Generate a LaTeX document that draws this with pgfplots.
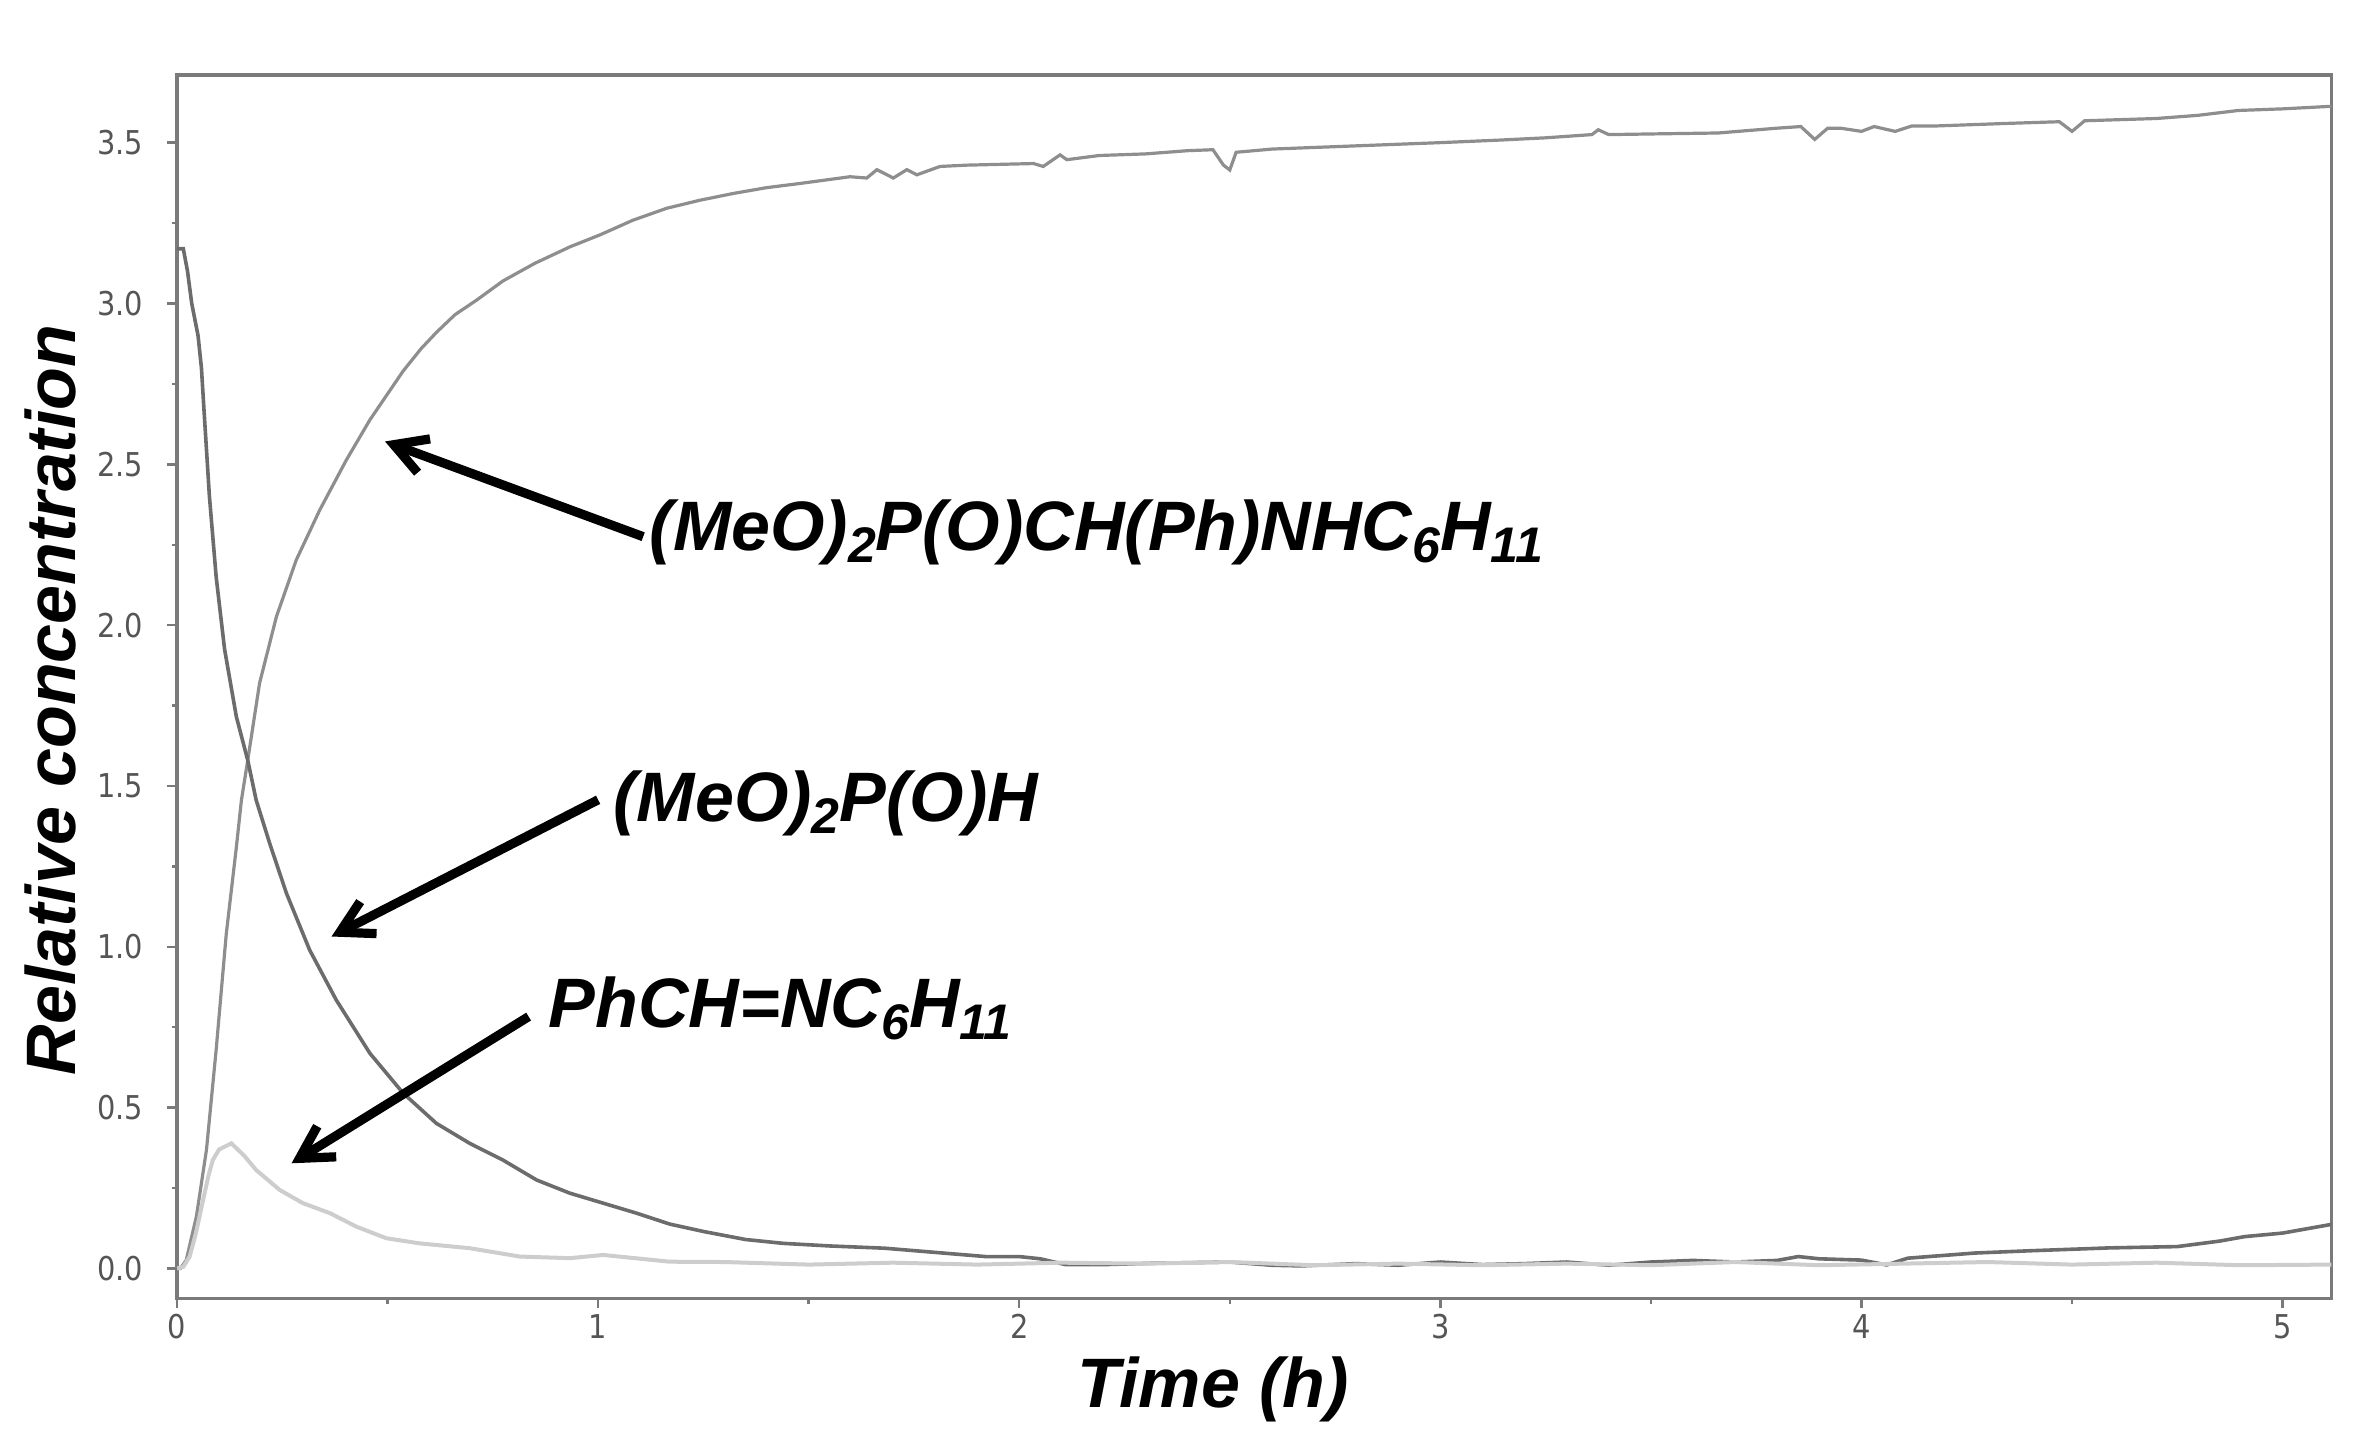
\documentclass[border=0pt]{standalone}
\usepackage{fontspec}
\setmainfont{Liberation Sans}
\newfontfamily\tickfont[FakeStretch=0.88]{DejaVu Sans}
\usepackage{pgfplots}
\pgfplotsset{compat=1.18}
\usetikzlibrary{arrows.meta}

\definecolor{axisgray}{HTML}{7A7A7A}
\definecolor{tickgray}{HTML}{555555}
\definecolor{prodgray}{HTML}{8E8E8E}
\definecolor{phosgray}{HTML}{6C6C6C}
\definecolor{iminegray}{HTML}{CDCDCD}

\newcommand\sub[1]{\raisebox{-3pt}{\fontsize{12.5pt}{12.5pt}\selectfont #1}}
\newcommand\bigfont{\fontsize{17.5pt}{20pt}\selectfont\bfseries\itshape}

\begin{document}
\begin{tikzpicture}
\useasboundingbox (0,0) rectangle (589.25pt,357.5pt);
\begin{axis}[
    at={(44.25pt,32.9pt)}, anchor=south west,
    scale only axis, width=538.6pt, height=305.9pt,
    xmin=0, xmax=5.116, ymin=-0.093, ymax=3.711,
    xtick={0,1,2,3,4,5}, ytick={0,0.5,...,3.5},
    minor x tick num=1, minor y tick num=1,
    tick pos=left, tick align=outside,
    major tick length=2.5pt, minor tick length=1.3pt,
    tick style={draw=axisgray, line width=0.6pt},
    axis line style={draw=axisgray, line width=0.9pt},
    /pgf/number format/assume math mode=true,
    ticklabel style={font=\tickfont\fontsize{8.2pt}{9pt}\selectfont, text=tickgray},
    y tick label style={xshift=-2.4pt, /pgf/number format/.cd, fixed, fixed zerofill, precision=1},
    x tick label style={yshift=2pt},
    xlabel={Time (h)}, ylabel={Relative concentration},
    every axis x label/.style={at={(axis description cs:0.481,-0.0895)}, anchor=base, font=\bigfont},
    every axis y label/.style={at={(axis description cs:-0.0473,0.489)}, rotate=90, anchor=base, font=\bigfont},
]
% (MeO)2P(O)CH(Ph)NHC6H11
\addplot[prodgray, line width=0.8pt] coordinates {
(0,0) (0.008,0.0) (0.022,0.026) (0.046,0.161) (0.070,0.369) (0.093,0.68)
(0.117,1.04) (0.141,1.31) (0.153,1.456) (0.168,1.58) (0.196,1.819)
(0.236,2.026) (0.283,2.202) (0.339,2.358) (0.402,2.513) (0.458,2.638)
(0.537,2.79) (0.58,2.86) (0.616,2.91) (0.66,2.965) (0.711,3.01) (0.774,3.07) (0.85,3.125)
(0.933,3.176) (1.004,3.213) (1.083,3.259) (1.163,3.296) (1.242,3.321)
(1.321,3.342) (1.40,3.36) (1.479,3.373) (1.598,3.394) (1.638,3.39)
(1.662,3.416) (1.701,3.39) (1.733,3.416) (1.757,3.40) (1.812,3.426)
(1.875,3.43) (2.034,3.435) (2.057,3.426) (2.097,3.462) (2.113,3.447)
(2.19,3.46) (2.3,3.465) (2.40,3.475) (2.46,3.478) (2.485,3.43) (2.50,3.415)
(2.515,3.47) (2.6,3.48) (2.7,3.485) (2.8,3.49) (2.9,3.495) (3.0,3.50)
(3.142,3.508) (3.25,3.515) (3.36,3.525) (3.375,3.54) (3.40,3.525)
(3.5,3.527) (3.66,3.53) (3.80,3.545) (3.856,3.55) (3.889,3.51) (3.92,3.545)
(3.95,3.545) (4.0,3.535) (4.03,3.55) (4.08,3.535) (4.12,3.552) (4.18,3.552)
(4.35,3.56) (4.47,3.565) (4.50,3.535) (4.53,3.568) (4.70,3.575) (4.80,3.585)
(4.895,3.60) (5.0,3.605) (5.116,3.613)
};
% (MeO)2P(O)H
\addplot[phosgray, line width=0.9pt] coordinates {
(0,3.17) (0.015,3.17) (0.025,3.10) (0.035,3.00) (0.05,2.90) (0.058,2.80)
(0.065,2.65) (0.077,2.40) (0.093,2.15) (0.113,1.925) (0.141,1.715)
(0.168,1.58) (0.188,1.456) (0.22,1.322) (0.26,1.166) (0.315,0.99)
(0.378,0.835) (0.458,0.669) (0.537,0.545) (0.616,0.451) (0.695,0.389)
(0.774,0.337) (0.854,0.275) (0.933,0.234) (1.012,0.203) (1.091,0.172)
(1.17,0.138) (1.25,0.115) (1.35,0.09) (1.44,0.078) (1.55,0.07) (1.68,0.063)
(1.80,0.05) (1.92,0.037) (2.0,0.037) (2.05,0.03) (2.11,0.012) (2.2,0.012)
(2.31,0.016) (2.5,0.02) (2.6,0.01) (2.67,0.008) (2.8,0.015) (2.9,0.01)
(3.0,0.02) (3.1,0.012) (3.2,0.015) (3.3,0.02) (3.4,0.01) (3.5,0.02)
(3.6,0.025) (3.7,0.02) (3.8,0.025) (3.85,0.037) (3.9,0.03) (4.0,0.026)
(4.06,0.011) (4.11,0.032) (4.27,0.048) (4.4,0.055) (4.59,0.064) (4.75,0.068)
(4.85,0.085) (4.91,0.099) (5.0,0.11) (5.116,0.137)
};
% PhCH=NC6H11
\addplot[iminegray, line width=1pt] coordinates {
(0,0) (0.015,0.005) (0.03,0.037) (0.045,0.11) (0.062,0.213) (0.075,0.29)
(0.085,0.337) (0.10,0.37) (0.129,0.389) (0.16,0.35) (0.188,0.306)
(0.244,0.244) (0.299,0.203) (0.363,0.172) (0.426,0.130) (0.497,0.094)
(0.576,0.078) (0.695,0.063) (0.814,0.037) (0.933,0.032) (1.012,0.042)
(1.17,0.021) (1.3,0.02) (1.5,0.012) (1.7,0.018) (1.9,0.012) (2.1,0.018)
(2.3,0.015) (2.5,0.02) (2.7,0.01) (2.9,0.015) (3.1,0.01) (3.3,0.015)
(3.5,0.01) (3.7,0.02) (3.9,0.01) (4.1,0.015) (4.3,0.02) (4.5,0.012)
(4.7,0.018) (4.9,0.01) (5.116,0.012)
};
% annotations
\draw[line width=2.3pt, -{Straight Barb[length=8pt,width=9pt]}] (axis cs:1.107,2.275) -- (axis cs:0.494,2.571);
\draw[line width=2.3pt, -{Straight Barb[length=8pt,width=9pt]}] (axis cs:1.0,1.457) -- (axis cs:0.367,1.032);
\draw[line width=2.3pt, -{Straight Barb[length=8pt,width=9pt]}] (axis cs:0.835,0.783) -- (axis cs:0.272,0.327);
\node[anchor=base west, font=\bigfont, inner sep=0pt] at (axis cs:1.121,2.231) {(MeO)\sub{2}P(O)CH(Ph)NHC\sub{6}H\sub{11}};
\node[anchor=base west, font=\bigfont, inner sep=0pt] at (axis cs:1.035,1.388) {(MeO)\sub{2}P(O)H};
\node[anchor=base west, font=\bigfont, inner sep=0pt] at (axis cs:0.881,0.748) {PhCH=NC\sub{6}H\sub{11}};
\end{axis}
\end{tikzpicture}
\end{document}
